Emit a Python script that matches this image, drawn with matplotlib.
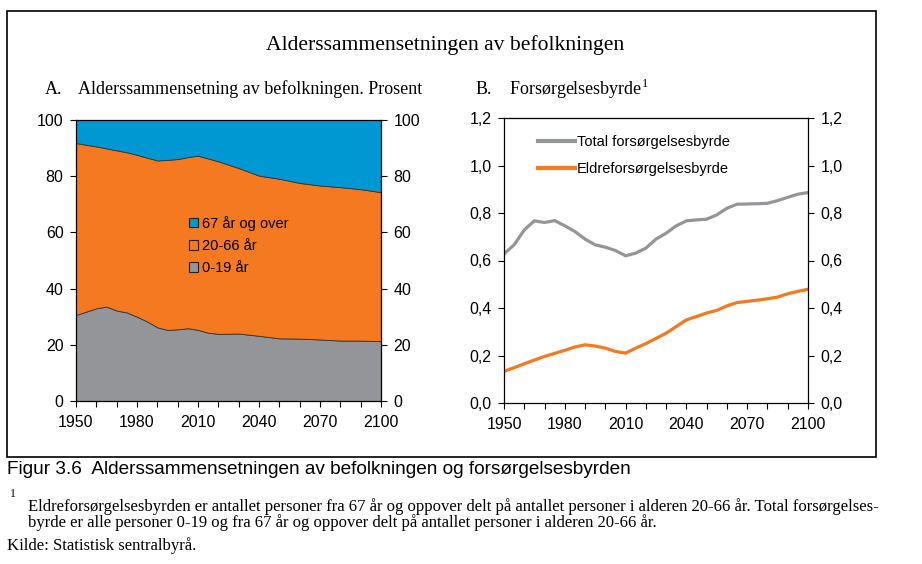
import numpy as np
import matplotlib.pyplot as plt
from matplotlib.patches import Rectangle, Patch
from matplotlib.lines import Line2D
from matplotlib.ticker import FuncFormatter

# Panel A: aldersfordeling (prosent), kumulative grenser
aar_a = [1950, 1960, 1965, 1970, 1975, 1980, 1985, 1990, 1995, 2000, 2005, 2010,
         2015, 2020, 2030, 2040, 2050, 2060, 2070, 2080, 2090, 2100]
andel_0_19 = [30.6, 33.0, 33.6, 32.2, 31.5, 30.0, 28.3, 26.2, 25.3, 25.5, 25.9, 25.3,
              24.3, 23.9, 24.0, 23.2, 22.3, 22.2, 21.9, 21.5, 21.5, 21.3]
topp_0_66 = [91.8, 90.6, 89.9, 89.2, 88.5, 87.6, 86.6, 85.6, 85.8, 86.1, 86.8, 87.3,
             86.3, 85.3, 82.9, 80.2, 79.1, 77.6, 76.7, 76.1, 75.4, 74.3]
andel_20_66 = [t - b for t, b in zip(topp_0_66, andel_0_19)]
andel_67 = [100 - t for t in topp_0_66]

# Panel B: forsørgelsesbyrde
aar_b = [1950, 1955, 1960, 1965, 1970, 1975, 1980, 1985, 1990, 1995, 2000, 2005,
         2010, 2015, 2020, 2025, 2030, 2035, 2040, 2045, 2050, 2055, 2060, 2065,
         2070, 2075, 2080, 2085, 2090, 2095, 2100]
total_byrde = [0.628, 0.666, 0.729, 0.767, 0.760, 0.768, 0.746, 0.722, 0.690, 0.666,
               0.656, 0.642, 0.620, 0.631, 0.652, 0.690, 0.715, 0.746, 0.767, 0.771,
               0.774, 0.792, 0.820, 0.837, 0.838, 0.839, 0.841, 0.852, 0.866, 0.879,
               0.886]
eldre_byrde = [0.133, 0.149, 0.165, 0.181, 0.196, 0.209, 0.222, 0.236, 0.245, 0.240,
               0.231, 0.217, 0.210, 0.231, 0.250, 0.272, 0.294, 0.322, 0.350, 0.364,
               0.379, 0.390, 0.409, 0.423, 0.428, 0.433, 0.439, 0.446, 0.460, 0.470,
               0.479]

BLA = '#0098d2'
ORANSJE = '#f47920'
GRA = '#939598'
SANS = 'Liberation Sans'
SERIF = 'Liberation Serif'
TICK_FS = 11.5

W, H = 922, 564
fig = plt.figure(figsize=(W / 100, H / 100), dpi=100)


def px_axes(left, top, right, bottom):
    return fig.add_axes([left / W, 1 - bottom / H, (right - left) / W, (bottom - top) / H])


def style_x(ax):
    ticks = list(range(1950, 2101, 10))
    ax.set_xticks(ticks)
    ax.set_xticklabels([str(t) if (t - 1950) % 30 == 0 else '' for t in ticks])
    ax.set_xlim(1950, 2100)
    ax.tick_params(direction='out', length=4, width=0.8, labelsize=TICK_FS,
                   right=True, labelright=True, pad=5)
    ax.tick_params(axis='x', pad=6)
    for lbl in ax.get_xticklabels() + ax.get_yticklabels():
        lbl.set_fontfamily(SANS)
    for lbl in ax.yaxis.get_ticklabels(which='major'):
        lbl.set_fontfamily(SANS)
    for sp in ax.spines.values():
        sp.set_linewidth(0.9)


# ramme rundt figuren
fig.patches.append(Rectangle((7 / W, 1 - 457 / H), 869 / W, 446 / H, transform=fig.transFigure,
                             fill=False, edgecolor='black', linewidth=1.2))

fig.text(445 / W, 1 - 45 / H, 'Alderssammensetningen av befolkningen', ha='center', va='center',
         fontsize=15.6, family=SERIF)
fig.text(45 / W, 1 - 89 / H, 'A.', ha='left', va='center', fontsize=13, family=SERIF)
fig.text(78 / W, 1 - 89 / H, 'Alderssammensetning av befolkningen. Prosent', ha='left',
         va='center', fontsize=13, family=SERIF)
fig.text(476 / W, 1 - 89 / H, 'B.', ha='left', va='center', fontsize=13, family=SERIF)
fig.text(509 / W, 1 - 89 / H, 'Forsørgelsesbyrde$^{\\mathregular{1}}$', ha='left', va='center',
         fontsize=13, family=SERIF)

# Panel A
axa = px_axes(76, 120, 381, 401)
axa.stackplot(aar_a, andel_0_19, andel_20_66, andel_67, colors=[GRA, ORANSJE, BLA],
              edgecolor='#333333', linewidth=0.6)
axa.set_ylim(0, 100)
axa.set_yticks(range(0, 101, 20))
style_x(axa)
handles_a = [Patch(facecolor=BLA, edgecolor='#222222', linewidth=0.8),
             Patch(facecolor=ORANSJE, edgecolor='#222222', linewidth=0.8),
             Patch(facecolor=GRA, edgecolor='#222222', linewidth=0.8)]
axa.legend(handles_a, ['67 år og over', '20-66 år', '0-19 år'], loc='upper left',
           bbox_to_anchor=(0.327, 0.705), frameon=False, handlelength=0.6, handleheight=0.6,
           handletextpad=0.3, labelspacing=0.55, prop={'family': SANS, 'size': 10.5})

# Panel B
axb = px_axes(504, 118, 808, 403)
axb.plot(aar_b, total_byrde, color=GRA, linewidth=2.3)
axb.plot(aar_b, eldre_byrde, color=ORANSJE, linewidth=2.3)
axb.set_ylim(0, 1.2)
axb.set_yticks(np.arange(0, 1.21, 0.2))
axb.yaxis.set_major_formatter(FuncFormatter(lambda v, p: f'{v:.1f}'.replace('.', ',')))
style_x(axb)
handles_b = [Line2D([], [], color=GRA, linewidth=3), Line2D([], [], color=ORANSJE, linewidth=3)]
axb.legend(handles_b, ['Total forsørgelsesbyrde', 'Eldreforsørgelsesbyrde'], loc='upper left',
           bbox_to_anchor=(0.07, 0.985), frameon=False, handlelength=2.5, handletextpad=0.15,
           labelspacing=0.85, prop={'family': SANS, 'size': 10.5})

# bildetekst og fotnote
fig.text(7 / W, 1 - 470 / H, 'Figur 3.6  Alderssammensetningen av befolkningen og forsørgelsesbyrden',
         ha='left', va='center', fontsize=13.7, family=SANS)
fig.text(10 / W, 1 - 494 / H, '1', ha='left', va='center', fontsize=8.5, family=SERIF)
fig.text(28 / W, 1 - 507 / H, 'Eldreforsørgelsesbyrden er antallet personer fra 67 år og oppover delt '
         'på antallet personer i alderen 20-66 år. Total forsørgelses-', ha='left', va='center',
         fontsize=12, family=SERIF)
fig.text(28 / W, 1 - 523 / H, 'byrde er alle personer 0-19 og fra 67 år og oppover delt på antallet '
         'personer i alderen 20-66 år.', ha='left', va='center', fontsize=12, family=SERIF)
fig.text(7 / W, 1 - 546 / H, 'Kilde: Statistisk sentralbyrå.', ha='left', va='center',
         fontsize=12, family=SERIF)

fig.savefig('out.png', dpi=100)
